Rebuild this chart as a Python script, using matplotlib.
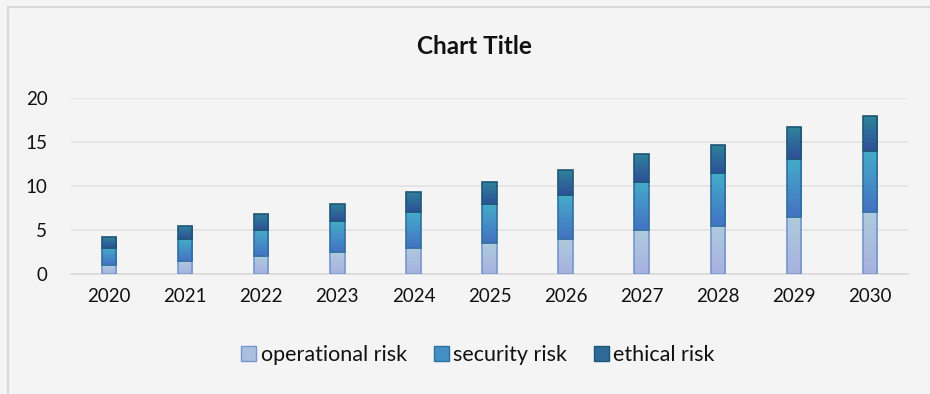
import matplotlib
matplotlib.use("Agg")
import matplotlib.pyplot as plt
import numpy as np
from matplotlib.colors import LinearSegmentedColormap
from matplotlib.patches import Rectangle

plt.rcParams['font.family'] = ['Lato', 'DejaVu Sans']

years = ['2020', '2021', '2022', '2023', '2024', '2025', '2026', '2027', '2028', '2029', '2030']
operational = [1, 1.5, 2, 2.5, 3, 3.5, 4, 5, 5.5, 6.5, 7]
security = [2, 2.5, 3, 3.5, 4, 4.5, 5, 5.5, 6, 6.6, 7]
ethical = [1.2, 1.5, 1.8, 2, 2.3, 2.5, 2.8, 3.1, 3.2, 3.6, 3.9]
series_names = ['operational risk', 'security risk', 'ethical risk']

W, H = 930, 394
fig = plt.figure(figsize=(W / 100, H / 100), dpi=100)
fig.patch.set_facecolor('#f4f4f4')

# outer border (top & left visible)
fig.add_artist(Rectangle((7.5 / W, -0.1), 1.2, (H - 7.5) / H + 0.1, transform=fig.transFigure,
                         fill=False, edgecolor='#d9d9d9', linewidth=1.5))

ax = fig.add_axes([71 / W, (H - 274) / H, (908 - 71) / W, (274 - 98) / H])
ax.set_facecolor('#f4f4f4')

styles = [
    # (top colour, bottom colour, edge colour, legend face)
    ('#aecbdc', '#a7b1e0', '#7597cf', '#abbfe0'),
    ('#45acc8', '#4472c4', '#2f6fa0', '#438fc6'),
    ('#2f8399', '#2e4f9a', '#1f5675', '#2e6a98'),
]

x = np.arange(len(years))
width = 0.19
bottoms = np.zeros(len(years))
handles = []
for vals, (ctop, cbot, cedge, cleg), name in zip([operational, security, ethical], styles, series_names):
    bars = ax.bar(x, vals, width, bottom=bottoms, color='none', edgecolor=cedge, linewidth=1.2,
                  zorder=3, label=name)
    cmap = LinearSegmentedColormap.from_list('g', [cbot, ctop])
    grad = np.linspace(0, 1, 64).reshape(-1, 1)
    for b in bars:
        bx, by = b.get_x(), b.get_y()
        bw, bh = b.get_width(), b.get_height()
        im = ax.imshow(grad, cmap=cmap, origin='lower', aspect='auto',
                       extent=[bx, bx + bw, by, by + bh], zorder=2, interpolation='bilinear')
        im.set_clip_path(b)
    handles.append(Rectangle((0, 0), 1, 1, facecolor=cleg, edgecolor=cedge, linewidth=1.0))
    bottoms += np.array(vals)

ax.set_xlim(-0.5, len(years) - 0.5)
ax.set_ylim(0, 20)
ax.set_yticks([0, 5, 10, 15, 20])
ax.set_xticks(x)
ax.set_xticklabels(years)
ax.yaxis.grid(True, color='#e2e2e2', linewidth=1.2, zorder=0)
ax.set_axisbelow(True)
for s in ['top', 'right', 'left']:
    ax.spines[s].set_visible(False)
ax.spines['bottom'].set_color('#d9d9d9')
ax.spines['bottom'].set_linewidth(1.2)
ax.tick_params(axis='both', length=0, labelsize=13.5, colors='#111111')
ax.tick_params(axis='x', pad=10)
ax.tick_params(axis='y', pad=17)
for lbl in ax.get_yticklabels():
    lbl.set_horizontalalignment('right')

fig.text(474 / W, 1 - 46 / H, 'Chart Title', ha='center', va='center', fontsize=17.5,
         fontweight='bold', color='#111111')

leg = fig.legend(handles, series_names, loc='center', bbox_to_anchor=(478 / W, 1 - 355 / H),
                 ncol=3, frameon=False, fontsize=15.5, handlelength=0.7, handleheight=0.7,
                 handletextpad=0.2, columnspacing=1.25)
for t in leg.get_texts():
    t.set_color('#111111')

fig.savefig('out.png', dpi=100, facecolor=fig.get_facecolor())
